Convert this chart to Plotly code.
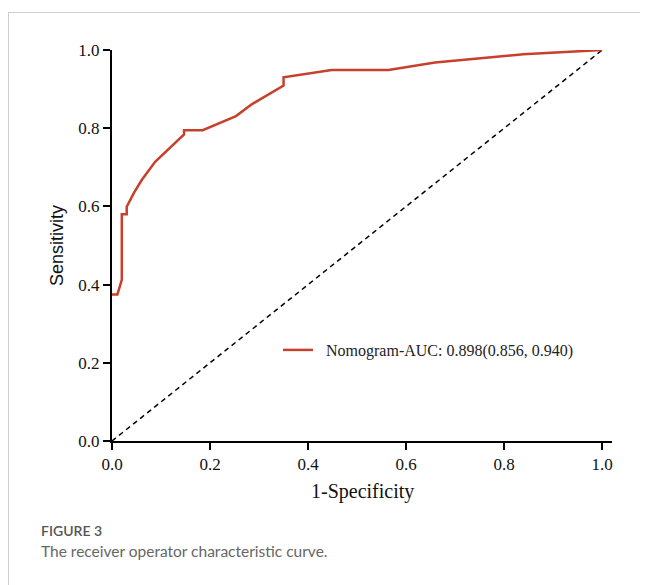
import plotly.graph_objects as go

# ROC curve values (1-Specificity, Sensitivity)
fpr = [0.0, 0.011, 0.020, 0.020, 0.030, 0.030, 0.045, 0.061, 0.088, 0.147, 0.147, 0.185,
       0.253, 0.285, 0.350, 0.350, 0.448, 0.564, 0.659, 0.839, 1.0]
tpr = [0.375, 0.375, 0.412, 0.580, 0.580, 0.599, 0.635, 0.668, 0.714, 0.784, 0.795, 0.795,
       0.831, 0.861, 0.909, 0.930, 0.949, 0.949, 0.968, 0.989, 1.0]
ref_x = [0.0, 1.0]
ref_y = [0.0, 1.0]
tick_vals = [0.0, 0.2, 0.4, 0.6, 0.8, 1.0]
tick_text = ["0.0", "0.2", "0.4", "0.6", "0.8", "1.0"]
legend_label = "Nomogram-AUC: 0.898(0.856, 0.940)"

OFF = 8  # page body margin
W, H = 648 - OFF, 585 - OFF
L, T = 112 - OFF, 50 - OFF
R = W - (612 - OFF)
B = H - (441 - OFF)
pw, ph = W - L - R, H - T - B

def px(x):
    return (x - OFF - L) / pw

def py(y):
    return (H - B - (y - OFF)) / ph

fig = go.Figure()
fig.add_trace(go.Scatter(x=ref_x, y=ref_y, mode="lines", showlegend=False,
                         line=dict(color="black", width=1.5, dash="5px,4px"), hoverinfo="skip"))
fig.add_trace(go.Scatter(x=fpr, y=tpr, mode="lines", name="\u00a0\u00a0" + legend_label,
                         line=dict(color="#c6402b", width=2.5)))

serif = "Liberation Serif, Times New Roman, serif"
axis_common = dict(showline=True, linecolor="black", linewidth=2, ticks="outside",
                   ticklen=7, tickwidth=2, tickcolor="black", showgrid=False, zeroline=False,
                   tickvals=tick_vals, ticktext=tick_text,
                   tickfont=dict(family=serif, size=17, color="#111"))

fig.update_layout(
    width=W, height=H,
    margin=dict(l=L, r=R, t=T, b=B, autoexpand=False),
    plot_bgcolor="white", paper_bgcolor="white",
    xaxis=dict(range=[0, 1.02], **axis_common),
    yaxis=dict(range=[0, 1.0], **axis_common),
    showlegend=True,
    legend=dict(x=px(278), y=py(350), xanchor="left", yanchor="middle",
                font=dict(family=serif, size=16, color="#222"), bgcolor="rgba(0,0,0,0)"),
    annotations=[
        dict(text="1-Specificity", xref="paper", yref="paper", x=px(362), y=py(491),
             xanchor="center", yanchor="middle", showarrow=False,
             font=dict(family=serif, size=20, color="#111")),
        dict(text="Sensitivity", xref="paper", yref="paper", x=px(57), y=py(246),
             xanchor="center", yanchor="middle", showarrow=False, textangle=-90,
             font=dict(family="Liberation Sans, Arial, sans-serif", size=18, color="#111")),
        dict(text="FIGURE 3", xref="paper", yref="paper", x=px(39), y=py(530),
             xanchor="left", yanchor="middle", showarrow=False,
             font=dict(family="Lato, sans-serif", size=14, color="#555", weight=600)),
        dict(text="The receiver operator characteristic curve.", xref="paper", yref="paper",
             x=px(39), y=py(551), xanchor="left", yanchor="middle", showarrow=False,
             font=dict(family="Lato, sans-serif", size=15.5, color="#666")),
    ],
    shapes=[
        dict(type="line", xref="paper", yref="paper", x0=px(8.5), x1=px(8.5), y0=py(12), y1=py(600),
             line=dict(color="#cfcfcf", width=1)),
        dict(type="line", xref="paper", yref="paper", x0=px(8.5), x1=px(660), y0=py(12.5), y1=py(12.5),
             line=dict(color="#cfcfcf", width=1)),
    ],
)

fig.write_html("out.html")
